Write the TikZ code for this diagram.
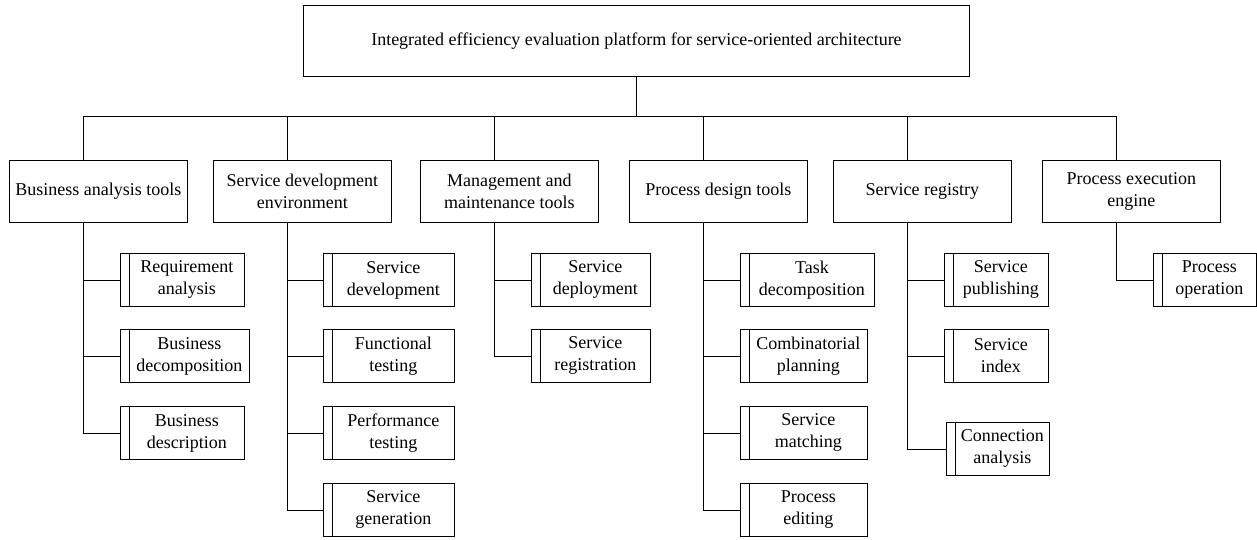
\documentclass[tikz,border=0pt]{standalone}
\usepackage{fontspec}
\setmainfont{Liberation Serif}
\begin{document}
\begin{tikzpicture}[x=1pt,y=-1pt,line width=0.9pt,
  every node/.style={font=\fontsize{18}{22}\selectfont},
  topbox/.style={draw,rectangle,anchor=north west,minimum width=666pt,minimum height=71pt,inner sep=0pt},
  catbox/.style={draw,rectangle,anchor=north west,minimum width=178pt,minimum height=62pt,inner sep=2pt,align=center},
  leafbox/.style={draw,rectangle,anchor=north west,minimum height=53pt,inner sep=1pt,align=center}
]
\useasboundingbox (0,0) rectangle (1257,539);

\node[topbox] (top) at (303,5) {Integrated efficiency evaluation platform for service-oriented architecture};

\coordinate (busL) at (83,116);
\coordinate (busR) at (1116,116);

\node[catbox] (c1) at (9,160) {Business analysis tools};
\node[catbox] (c2) at (213,160) {Service development\\environment};
\node[catbox] (c3) at (420,160) {Management and\\maintenance tools};
\node[catbox] (c4) at (629,160) {Process design tools};
\node[catbox] (c5) at (833,160) {Service registry};
\node[catbox] (c6) at (1042,160) {Process execution\\engine};

% leaves
\node[leafbox,minimum width=115pt] (l11) at (129,253) {Requirement\\analysis};
\node[leafbox,minimum width=120pt] (l12) at (129,329) {Business\\decomposition};
\node[leafbox,minimum width=115pt] (l13) at (129,406) {Business\\description};

\node[leafbox,minimum width=122pt] (l21) at (332,253) {Service\\development};
\node[leafbox,minimum width=122pt] (l22) at (332,329) {Functional\\testing};
\node[leafbox,minimum width=122pt] (l23) at (332,406) {Performance\\testing};
\node[leafbox,minimum width=122pt] (l24) at (332,483) {Service\\generation};

\node[leafbox,minimum width=110pt] (l31) at (540,253) {Service\\deployment};
\node[leafbox,minimum width=110pt] (l32) at (540,329) {Service\\registration};

\node[leafbox,minimum width=125pt] (l41) at (749,253) {Task\\decomposition};
\node[leafbox,minimum width=118pt] (l42) at (749,329) {Combinatorial\\planning};
\node[leafbox,minimum width=118pt] (l43) at (749,406) {Service\\matching};
\node[leafbox,minimum width=118pt] (l44) at (749,483) {Process\\editing};

\node[leafbox,minimum width=95pt] (l51) at (953,253) {Service\\publishing};
\node[leafbox,minimum width=95pt] (l52) at (953,329) {Service\\index};
\node[leafbox,minimum width=94pt] (l53) at (955,422) {Connection\\analysis};

\node[leafbox,minimum width=94pt] (l61) at (1162,253) {Process\\operation};

% left strips of the leaf boxes
\foreach \l in {l11,l12,l13,l21,l22,l23,l24,l31,l32,l41,l42,l43,l44,l51,l52,l53,l61}{
  \draw (\l.north west) -- ++(-9pt,0) |- (\l.south west);
}

% top connectors
\draw (top.south) -- (top.south |- busL);
\draw (busL) -- (busR);
\foreach \c in {c1,c2,c3,c4,c5,c6}{
  \draw ([xshift=-15pt]\c.north) -- ([xshift=-15pt]\c.north |- busL);
}

% leaf connectors
\foreach \c/\l in {c1/l11,c1/l12,c1/l13,c2/l21,c2/l22,c2/l23,c2/l24,c3/l31,c3/l32,c4/l41,c4/l42,c4/l43,c4/l44,c5/l51,c5/l52,c5/l53,c6/l61}{
  \draw ([xshift=-15pt]\c.south) |- ([xshift=-9pt]\l.west);
}
\end{tikzpicture}
\end{document}
